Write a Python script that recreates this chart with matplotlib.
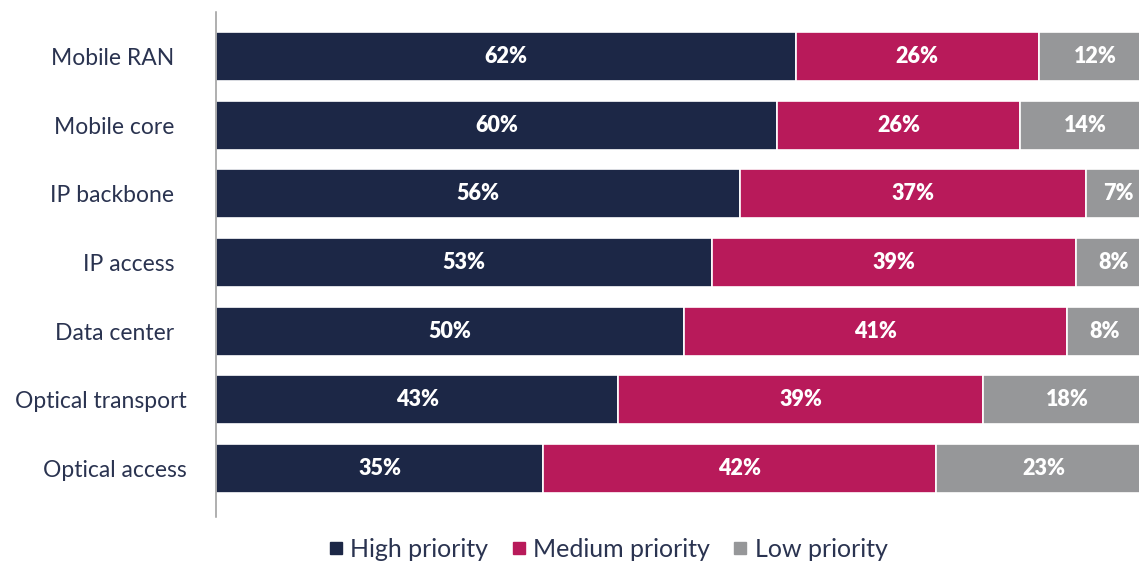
import numpy as np
import matplotlib.pyplot as plt
import matplotlib.transforms as mtransforms
from matplotlib.lines import Line2D

# segment shares per network domain (%)
categories = [
    "Mobile RAN",
    "Mobile core",
    "IP backbone",
    "IP access",
    "Data center",
    "Optical transport",
    "Optical access",
]
high = [62, 60, 56, 53, 50, 43, 35]
medium = [26, 26, 37, 39, 41, 39, 42]
low = [12, 14, 7, 8, 8, 18, 23]

series_names = ["High priority", "Medium priority", "Low priority"]
colors = ["#1c2746", "#b81a5a", "#969799"]
text_color = "#2a3350"

plt.rcParams["font.family"] = ["Lato", "DejaVu Sans"]

fig = plt.figure(figsize=(11.39, 5.62), dpi=100)
ax = fig.add_axes([216 / 1139, 45 / 562, 1 - 216 / 1139, 505 / 562])

y = np.arange(len(categories))
left = np.zeros(len(categories))
for vals, col in zip([high, medium, low], colors):
    vals = np.array(vals, dtype=float)
    ax.barh(y, vals, left=left, height=0.714, color=col,
            edgecolor="white", linewidth=1.2)
    for yi, l, v in zip(y, left, vals):
        ax.text(l + v / 2, yi, f"{int(v)}%", ha="center", va="center",
                color="white", fontsize=15.5, fontweight="heavy")
    left += vals

ax.set_xlim(0, 98.7)
ax.set_ylim(6.706, -0.648)
ax.set_yticks([])
ax.set_xticks([])

# category names, right-aligned left of the axis (the two long ones sit a bit closer)
base = mtransforms.blended_transform_factory(ax.transAxes, ax.transData)
for yi, name in zip(y, categories):
    dx = -21 if name.startswith("Optical") else -30
    tr = mtransforms.offset_copy(base, fig=fig, x=dx, y=-1.5, units="points")
    ax.text(0, yi, name, transform=tr, ha="right", va="center",
            fontsize=16.5, color=text_color)

for side in ["top", "right", "bottom"]:
    ax.spines[side].set_visible(False)
ax.spines["left"].set_color("#9a9a9a")
ax.spines["left"].set_linewidth(1.1)

handles = [
    Line2D([0], [0], marker="s", color="w", markerfacecolor=c,
           markeredgecolor=c, markersize=9, label=n)
    for c, n in zip(colors, series_names)
]
fig.legend(handles=handles, loc="center", bbox_to_anchor=(0.534, 0.022),
           ncol=3, frameon=False, fontsize=18, handlelength=0.55,
           handletextpad=0.3, columnspacing=0.95, labelcolor=text_color)

fig.savefig("out.png", dpi=100)
